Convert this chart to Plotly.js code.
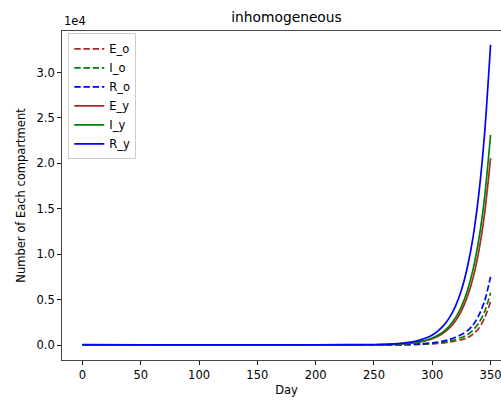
<!DOCTYPE html>
<html>
<head>
<meta charset="utf-8">
<script src="https://cdn.plot.ly/plotly-3.0.1.min.js"></script>
<style>
html, body { margin: 0; padding: 0; overflow: hidden; background: #fff; }
#chart { width: 512px; height: 400px; }
</style>
</head>
<body>
<div id="chart"></div>
<script>
const days = [0, 50, 100, 150, 200, 250, 255, 260, 265, 270, 275, 280, 285, 290, 295, 300, 305, 310, 315, 320, 325, 330, 335, 340, 345, 350];

const E_o = [5, 5, 5, 5, 5, 6, 8, 11, 15, 21, 28, 38, 52, 71, 96, 130, 177, 240, 325, 440, 590, 800, 1200, 1850, 3000, 4770];
const I_o = [5, 5, 5, 5, 5, 7, 10, 14, 19, 26, 36, 49, 67, 92, 126, 172, 235, 320, 440, 600, 820, 1130, 1640, 2450, 3700, 5760];
const R_o = [5, 5, 5, 5, 6, 10, 14, 19, 26, 36, 50, 68, 93, 128, 175, 240, 330, 450, 620, 850, 1150, 1545, 2210, 3280, 4870, 7520];
const E_y = [10, 11, 12, 13, 17, 25, 35, 46, 65, 90, 127, 177, 249, 349, 492, 692, 970, 1360, 1910, 2680, 3760, 5300, 7400, 10400, 14600, 20560];
const I_y = [10, 12, 13, 15, 19, 28, 39, 52, 73, 101, 143, 199, 280, 392, 553, 777, 1090, 1530, 2150, 3010, 4230, 5950, 8330, 11700, 16400, 23120];
const R_y = [30, 25, 22, 22, 26, 40, 56, 75, 105, 145, 205, 285, 400, 560, 790, 1110, 1560, 2190, 3070, 4300, 6050, 8500, 11900, 16750, 23500, 33060];

const xTicks = [0, 50, 100, 150, 200, 250, 300, 350];
const yTickVals = [0, 5000, 10000, 15000, 20000, 25000, 30000];
const yTickText = ["0.0", "0.5", "1.0", "1.5", "2.0", "2.5", "3.0"];

const seriesNames = ["E_o", "I_o", "R_o", "E_y", "I_y", "R_y"];
const seriesData = [E_o, I_o, R_o, E_y, I_y, R_y];
const seriesColors = ["#a52a2a", "#008000", "#0000ff", "#a52a2a", "#008000", "#0000ff"];
const seriesDash = ["6.4px,2.8px", "6.4px,2.8px", "6.4px,2.8px", "solid", "solid", "solid"];

const font = "DejaVu Sans, sans-serif";

const traces = seriesNames.map((n, i) => ({
  x: days,
  y: seriesData[i],
  name: n,
  type: "scatter",
  mode: "lines",
  line: { color: seriesColors[i], width: 1.7, dash: seriesDash[i], shape: "spline", smoothing: 0.6 }
}));

const layout = {
  width: 512,
  height: 400,
  margin: { l: 62, r: 1, t: 31, b: 40 },
  paper_bgcolor: "#fff",
  plot_bgcolor: "#fff",
  font: { family: font, size: 11.5, color: "#000" },
  title: { text: "inhomogeneous", font: { family: font, size: 13.8, color: "#000" }, xref: "paper", x: 0.5, xanchor: "center", yref: "container", y: 1 - 17 / 400, yanchor: "middle" },
  showlegend: true,
  legend: {
    x: 0.014, y: 0.993, xanchor: "left", yanchor: "top",
    bgcolor: "rgba(255,255,255,0.8)", bordercolor: "#cccccc", borderwidth: 1,
    font: { family: font, size: 11.5, color: "#000" },
    tracegroupgap: 0
  },
  xaxis: {
    range: [-17.5, 367.5],
    tickvals: xTicks,
    ticktext: xTicks.map(String),
    ticks: "outside", ticklen: 4, tickwidth: 0.9, tickcolor: "#000",
    showline: true, linecolor: "#333", linewidth: 0.9, mirror: true,
    showgrid: false, zeroline: false,
    title: { text: "Day", font: { family: font, size: 11.5, color: "#000" }, standoff: 5 }
  },
  yaxis: {
    range: [-1652, 34573],
    tickvals: yTickVals,
    ticktext: yTickText,
    ticks: "outside", ticklen: 4, tickwidth: 0.9, tickcolor: "#000",
    showline: true, linecolor: "#333", linewidth: 0.9, mirror: true,
    showgrid: false, zeroline: false,
    title: { text: "Number of Each compartment", font: { family: font, size: 11.5, color: "#000" }, standoff: 8 }
  },
  annotations: [{
    text: "1e4", xref: "paper", yref: "paper", x: 0, y: 1, xanchor: "left", yanchor: "bottom",
    yshift: 1, showarrow: false, font: { family: font, size: 11.5, color: "#000" }
  }]
};

Plotly.newPlot("chart", traces, layout, { displayModeBar: false, staticPlot: true });
</script>
</body>
</html>
